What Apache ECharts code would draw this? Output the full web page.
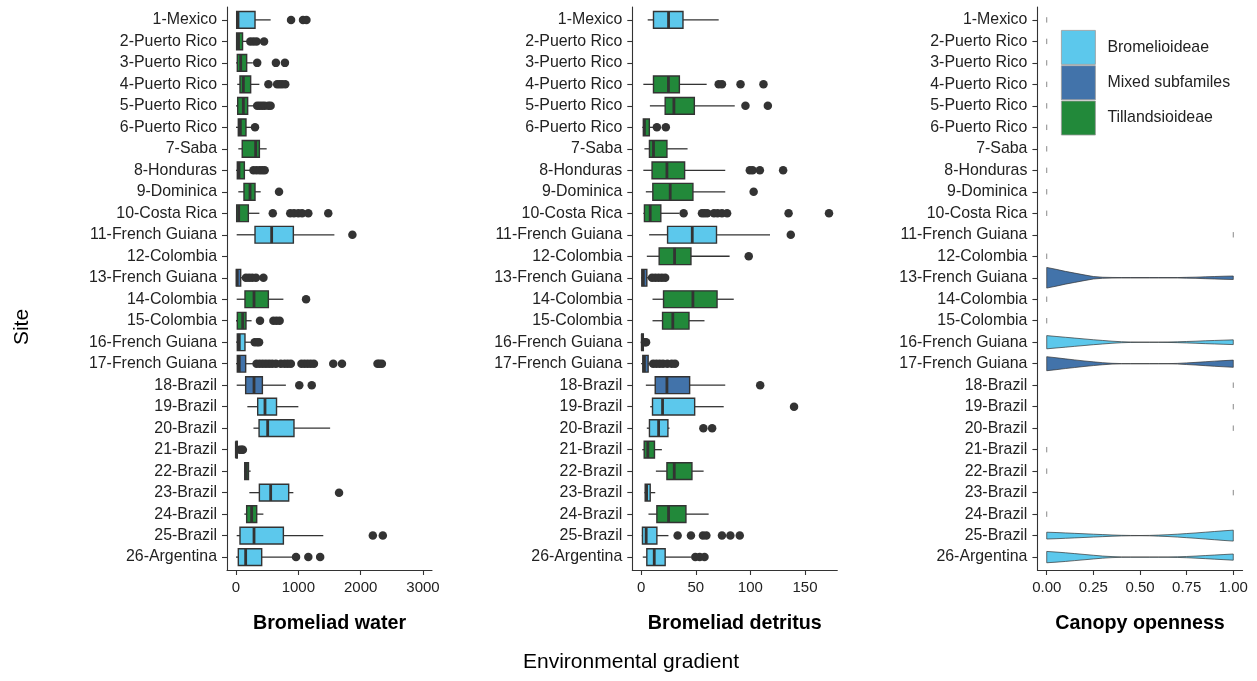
<!DOCTYPE html>
<html>
<head>
<meta charset="utf-8">
<script src="https://cdn.jsdelivr.net/npm/echarts@6/dist/echarts.min.js"></script>
<style>
  html, body { margin: 0; padding: 0; background: #fff; }
  #chart { width: 1257px; height: 681px; }
</style>
</head>
<body>
<div id="chart"></div>
<script>
// ---------------- DATA ----------------
const sites = ['1-Mexico','2-Puerto Rico','3-Puerto Rico','4-Puerto Rico','5-Puerto Rico','6-Puerto Rico',
  '7-Saba','8-Honduras','9-Dominica','10-Costa Rica','11-French Guiana','12-Colombia','13-French Guiana',
  '14-Colombia','15-Colombia','16-French Guiana','17-French Guiana','18-Brazil','19-Brazil','20-Brazil',
  '21-Brazil','22-Brazil','23-Brazil','24-Brazil','25-Brazil','26-Argentina'];

const groupNames = ['Bromelioideae', 'Mixed subfamiles', 'Tillandsioideae'];
// subfamily of each site (index into groupNames)
const siteGroup = [0,2,2,2,2,2,2,2,2,2,0,2,1,2,2,0,1,1,0,0,2,2,0,2,0,0];

// Bromeliad water: [lower whisker, Q1, median, Q3, upper whisker]
const waterStats = [
  [0, 11, 32, 305, 556],
  [0, 10, 40, 105, 190],
  [0, 21, 75, 171, 270],
  [20, 64, 118, 235, 375],
  [0, 27, 118, 187, 305],
  [0, 37, 70, 160, 250],
  [37, 100, 315, 375, 492],
  [0, 21, 48, 134, 250],
  [37, 128, 225, 305, 396],
  [0, 11, 43, 198, 375],
  [11, 305, 572, 920, 1578],
  null,
  [0, 5, 20, 75, 120],
  [11, 144, 289, 519, 760],
  [0, 21, 107, 160, 250],
  [0, 21, 53, 144, 250],
  [0, 21, 53, 155, 290],
  [11, 155, 289, 423, 800],
  [182, 348, 465, 650, 1000],
  [280, 370, 508, 930, 1510],
  [0, 2, 5, 20, 40],
  [128, 140, 165, 200, 235],
  [214, 375, 556, 845, 920],
  [134, 171, 251, 332, 439],
  [11, 64, 289, 760, 1400],
  [0, 37, 155, 412, 930]
];
const waterOutliers = [
  [883, 1075, 1130],
  [230, 280, 330, 450],
  [340, 640, 785],
  [520, 660, 700, 740, 790],
  [340, 380, 420, 460, 520, 555],
  [305],
  [],
  [280, 330, 380, 420, 460],
  [690],
  [590, 870, 930, 1000, 1060, 1160, 1480],
  [1867],
  [],
  [160, 210, 260, 320, 440],
  [1124],
  [385, 600, 650, 700],
  [300, 340, 370],
  [330, 380, 430, 480, 530, 580, 640, 720, 780, 830, 880, 1050, 1100, 1150, 1200, 1250, 1560, 1700, 2270, 2300, 2340],
  [1015, 1215],
  [],
  [],
  [60, 90, 110],
  [],
  [1653],
  [],
  [2195, 2355],
  [963, 1160, 1350]
];

// Bromeliad detritus: [lower whisker, Q1, median, Q3, upper whisker]
const detritusStats = [
  [6, 11.3, 25.1, 38.3, 71],
  null,
  null,
  [2, 11.3, 25, 35, 60],
  [8, 22, 30, 48.7, 85.7],
  [1, 2, 3, 7.5, 12],
  [3, 7.6, 11.3, 23.6, 42.5],
  [2, 10, 23.6, 39.8, 77],
  [4.3, 10.7, 26.6, 47.4, 77],
  [2, 3, 8.3, 18, 35],
  [7.3, 24.2, 46.8, 69, 118],
  [5.2, 16.5, 30.6, 45.6, 81],
  [0, 0.6, 2, 5.2, 8],
  [10.4, 20.5, 47.4, 69.5, 84.8],
  [10.4, 19.6, 29, 43.8, 58],
  [0, 0.5, 1, 2, 3],
  [0, 1.5, 3, 6.4, 9],
  [4.3, 12.9, 23.6, 44.4, 77],
  [8.3, 10.4, 19.6, 49, 75.6],
  [5.2, 7.6, 16, 24.5, 26],
  [1, 2.8, 6.1, 12.2, 19],
  [13.5, 23.6, 30.3, 46.5, 57.2],
  [3, 3.7, 5, 8.3, 12.9],
  [6.7, 14.4, 25.1, 41, 61.8],
  [0.6, 1.2, 4.6, 14.4, 25],
  [1.5, 5.2, 12, 22, 46]
];
const detritusOutliers = [
  [], [], [],
  [71, 74, 91, 112],
  [95.5, 116],
  [14.4, 22.6],
  [],
  [99.5, 102, 108.7, 130],
  [103],
  [38.9, 55.7, 58, 60.5, 66.7, 70, 74, 78.7, 135, 172],
  [137],
  [98.5],
  [10, 13, 16, 19, 22],
  [], [],
  [3.5, 4.5],
  [11, 14, 17, 20, 24, 28, 31],
  [109],
  [140],
  [57, 65],
  [], [], [], [],
  [33.4, 45.6, 56.6, 59.7, 74, 81.7, 90.3],
  [49.6, 53.6, 58]
];

// Canopy openness: sites with a single value (null = spread, drawn as violin)
const canopySingle = [0,0,0,0,0,0,0,0,0,0,1,0,null,0,0,null,null,1,1,1,0,0,1,0,null,null];
// violin density profiles (relative half-width) at these openness values
const canopyGrid = [0,0.05,0.1,0.15,0.2,0.25,0.3,0.35,0.4,0.45,0.5,0.55,0.6,0.65,0.7,0.75,0.8,0.85,0.9,0.95,1];
const canopyDensity = {
  13: [1.0,0.82,0.62,0.45,0.28,0.12,0.05,0.03,0.02,0.02,0.02,0.02,0.02,0.02,0.02,0.04,0.06,0.09,0.12,0.15,0.17],
  16: [0.64,0.56,0.48,0.40,0.32,0.24,0.17,0.10,0.05,0.02,0.01,0.01,0.01,0.02,0.04,0.07,0.10,0.14,0.17,0.20,0.23],
  17: [0.68,0.58,0.47,0.37,0.27,0.18,0.10,0.04,0.015,0.01,0.01,0.01,0.01,0.01,0.03,0.08,0.13,0.19,0.25,0.30,0.35],
  25: [0.33,0.30,0.26,0.22,0.18,0.14,0.10,0.06,0.03,0.015,0.01,0.02,0.05,0.09,0.14,0.20,0.26,0.33,0.40,0.47,0.53],
  26: [0.55,0.49,0.42,0.34,0.26,0.18,0.10,0.05,0.02,0.01,0.01,0.01,0.01,0.01,0.03,0.06,0.10,0.15,0.20,0.25,0.30]
};

const waterTicks = [0, 1000, 2000, 3000];
const detritusTicks = [0, 50, 100, 150];
const canopyTicks = [0, 0.25, 0.5, 0.75, 1];
const panelTitles = ['Bromeliad water', 'Bromeliad detritus', 'Canopy openness'];

// ---------------- STYLE ----------------
const groupColors = ['#5CC8EC', '#4273AA', '#22893A'];
const INK = '#333333';
const FONT = 'Liberation Sans, Arial, Helvetica, sans-serif';
const siteIdx = sites.map((s, i) => i + 1);

const chart = echarts.init(document.getElementById('chart'), null, { renderer: 'canvas' });

const grids = [
  { left: 227, top: 7, width: 205, height: 563 },
  { left: 632.3, top: 7, width: 205, height: 563 },
  { left: 1037.4, top: 7, width: 205.2, height: 563 }
];

function makeXAxis(i, min, max, ticks, fmt) {
  return {
    type: 'value', gridIndex: i, min: min, max: max,
    name: panelTitles[i], nameLocation: 'middle', nameGap: 44,
    nameTextStyle: { fontFamily: FONT, fontSize: 19.7, fontWeight: 'bold', color: '#000' },
    axisLine: { show: true, onZero: false, lineStyle: { color: INK, width: 1.1 } },
    axisTick: { show: true, length: 5, customValues: ticks, lineStyle: { color: INK, width: 1.1 } },
    axisLabel: { customValues: ticks, formatter: fmt, margin: 10, fontFamily: FONT, fontSize: 15, color: '#222' },
    splitLine: { show: false }
  };
}
function makeYAxis(i) {
  return {
    type: 'value', gridIndex: i, inverse: true, min: 0.4, max: 26.6,
    axisLine: { show: true, onZero: false, lineStyle: { color: INK, width: 1.1 } },
    axisTick: { show: true, length: 5, customValues: siteIdx, lineStyle: { color: INK, width: 1.1 } },
    axisLabel: { customValues: siteIdx, formatter: v => sites[Math.round(v) - 1] || '', margin: 10,
      fontFamily: FONT, fontSize: 15.9, color: '#222' },
    splitLine: { show: false }
  };
}

function boxRender(color) {
  return function (params, api) {
    const y = api.value(0);
    const band = api.size([0, 1])[1];
    const h = band * 0.78;
    const pLo = api.coord([api.value(1), y]);
    const pQ1 = api.coord([api.value(2), y]);
    const pMed = api.coord([api.value(3), y]);
    const pQ3 = api.coord([api.value(4), y]);
    const pHi = api.coord([api.value(5), y]);
    const cy = pMed[1];
    return {
      type: 'group',
      children: [
        { type: 'line', shape: { x1: pLo[0], y1: cy, x2: pQ1[0], y2: cy }, style: { stroke: INK, lineWidth: 1.3 } },
        { type: 'line', shape: { x1: pQ3[0], y1: cy, x2: pHi[0], y2: cy }, style: { stroke: INK, lineWidth: 1.3 } },
        { type: 'rect', shape: { x: pQ1[0], y: cy - h / 2, width: Math.max(pQ3[0] - pQ1[0], 0.5), height: h },
          style: { fill: color, stroke: INK, lineWidth: 1.4 } },
        { type: 'line', shape: { x1: pMed[0], y1: cy - h / 2, x2: pMed[0], y2: cy + h / 2 }, style: { stroke: INK, lineWidth: 2.8 } }
      ]
    };
  };
}

function violinRender(color) {
  return function (params, api) {
    const y = api.value(0);
    const dens = canopyDensity[y];
    const band = api.size([0, 1])[1];
    const scale = band * 0.48;
    const top = [], bot = [];
    for (let k = 0; k < canopyGrid.length; k++) {
      const p = api.coord([canopyGrid[k], y]);
      top.push([p[0], p[1] - dens[k] * scale]);
      bot.push([p[0], p[1] + dens[k] * scale]);
    }
    const pts = top.concat(bot.reverse());
    return {
      type: 'polygon', shape: { points: pts },
      style: { fill: color, stroke: INK, lineWidth: 0.7 }
    };
  };
}

function singleRender(params, api) {
  const y = api.value(1);
  const p = api.coord([api.value(0), y]);
  return { type: 'line', shape: { x1: p[0], y1: p[1] - 2.7, x2: p[0], y2: p[1] + 2.7 }, style: { stroke: '#888', lineWidth: 1 } };
}

const series = [];
[[waterStats, waterOutliers], [detritusStats, detritusOutliers]].forEach((pair, gi) => {
  const stats = pair[0], outs = pair[1];
  groupNames.forEach((gName, g) => {
    const data = [];
    stats.forEach((s, i) => { if (s && siteGroup[i] === g) data.push([i + 1].concat(s)); });
    series.push({
      type: 'custom', name: gName, xAxisIndex: gi, yAxisIndex: gi,
      itemStyle: { color: groupColors[g] },
      renderItem: boxRender(groupColors[g]),
      encode: { x: [1, 2, 3, 4, 5], y: 0 },
      data: data, silent: true, z: 2
    });
  });
  const od = [];
  outs.forEach((arr, i) => arr.forEach(v => od.push([v, i + 1])));
  series.push({
    type: 'scatter', xAxisIndex: gi, yAxisIndex: gi, data: od,
    symbol: 'circle', symbolSize: 8.5, itemStyle: { color: INK, opacity: 1 }, silent: true, z: 3
  });
});

// canopy violins
groupNames.forEach((gName, g) => {
  const data = [];
  Object.keys(canopyDensity).forEach(k => { const s = +k; if (siteGroup[s - 1] === g) data.push([s]); });
  series.push({
    type: 'custom', name: gName, xAxisIndex: 2, yAxisIndex: 2,
    itemStyle: { color: groupColors[g] },
    renderItem: violinRender(groupColors[g]),
    encode: { y: 0 },
    data: data, silent: true, z: 2
  });
});
const singles = [];
canopySingle.forEach((v, i) => { if (v !== null) singles.push([v, i + 1]); });
series.push({
  type: 'custom', xAxisIndex: 2, yAxisIndex: 2, renderItem: singleRender,
  encode: { x: 0, y: 1 }, data: singles, silent: true, z: 2
});

const option = {
  animation: false,
  backgroundColor: '#fff',
  grid: grids,
  xAxis: [
    makeXAxis(0, -144.4, 3144, waterTicks, v => String(v)),
    makeXAxis(1, -8.1, 179.6, detritusTicks, v => String(v)),
    makeXAxis(2, -0.05, 1.05, canopyTicks, v => v.toFixed(2))
  ],
  yAxis: [makeYAxis(0), makeYAxis(1), makeYAxis(2)],
  legend: {
    data: groupNames, orient: 'vertical', left: 1061, top: 30, padding: 0,
    itemWidth: 34, itemHeight: 34, itemGap: 0.5, icon: 'rect',
    itemStyle: { borderColor: '#999', borderWidth: 0.8 },
    textStyle: { fontFamily: FONT, fontSize: 15.9, color: '#222', padding: [0, 0, 0, 7] },
    selectedMode: false
  },
  graphic: [
    { type: 'text', x: 22, y: 327, rotation: Math.PI / 2,
      style: { text: 'Site', fontFamily: FONT, fontSize: 21, fill: '#000', textAlign: 'center', textVerticalAlign: 'middle' } },
    { type: 'text', x: 631, y: 662,
      style: { text: 'Environmental gradient', fontFamily: FONT, fontSize: 21, fill: '#000', textAlign: 'center', textVerticalAlign: 'middle' } }
  ],
  series: series
};
chart.setOption(option);
</script>
</body>
</html>
